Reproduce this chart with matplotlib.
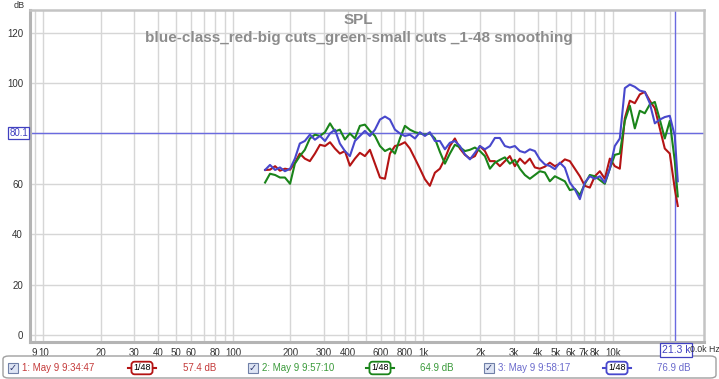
#!/usr/bin/env python3
"""
SPL measurement overlay, three sweeps with 1/48 octave smoothing
"""

import matplotlib.pyplot as plt
from matplotlib.patches import FancyBboxPatch, Rectangle

plt.rcParams['font.family'] = ['Liberation Sans', 'DejaVu Sans']

# Frequency points (Hz) and the three measured curves (dB)
freq = [147, 156, 166, 176, 187, 199, 211, 224, 238, 253, 269, 286, 304, 323,
        343, 364, 387, 411, 437, 464, 493, 524, 557, 592, 629, 668, 710, 754,
        801, 851, 905, 961, 1021, 1084, 1152, 1224, 1301, 1382, 1468, 1560,
        1658, 1762, 1872, 1988, 2113, 2245, 2385, 2533, 2692, 2860, 3038, 3228,
        3430, 3644, 3872, 4113, 4371, 4643, 4934, 5242, 5569, 5917, 6287, 6680,
        7097, 7540, 8011, 8511, 9043, 9608, 10205, 10845, 11525, 12246, 13010,
        13822, 14684, 15600, 16581, 17615, 18711, 19878, 21120, 21900]

red_db = [65.5, 65.6, 67, 65.2, 66, 65.6, 68.4, 72, 70, 69, 72, 75.5, 75, 76.5,
          74, 72, 73, 67.2, 70, 72.3, 71, 73.5, 68, 62.5, 62, 72, 75, 75.5,
          76.5, 74, 70, 66, 61.8, 59.2, 64.4, 66, 70, 75, 78, 74,
          71.5, 70, 71, 75, 73, 69, 69, 67, 69, 71, 67, 70,
          68, 70, 66.5, 66, 66.8, 68.4, 67, 68, 69.7, 69, 66, 63,
          59.2, 58.5, 63, 65, 62, 70, 67, 66, 86, 93, 92,
          95.5, 96.5, 93, 90, 82, 74, 72, 58, 51.2]

green_db = [60.5, 64, 63.5, 62.5, 62.5, 60, 68, 71, 73.5, 78, 79.5, 79, 80.5, 84,
            80.8, 81.5, 77.6, 80, 78, 83, 83.5, 81, 79, 75, 73, 74, 72, 78,
            83, 81.5, 80.5, 80, 79.5, 80, 78, 72.7, 68, 72, 75.5, 74.5,
            73, 73.5, 74.4, 73, 71, 66, 68.4, 69.5, 70.5, 68, 69.5, 66,
            63.5, 62, 63.5, 65, 64.5, 61, 63, 62, 61, 57.5, 58, 55.5,
            60, 63.5, 63, 61.5, 60, 66, 71.5, 72, 85, 91, 82,
            89, 88, 91.5, 92.5, 85.5, 78, 85, 69, 55]

blue_db = [65.5, 67.5, 65.5, 66.5, 65, 66, 70, 76, 77, 79.5, 77.5, 79, 77, 80,
           81.5, 76, 73, 71, 77, 79, 81, 79, 81.5, 85.5, 86.7, 85.5, 81.5, 80,
           79, 79.5, 78, 80.5, 79, 80.5, 77, 77, 73.7, 76.3, 77, 75,
           71.7, 69.7, 72.3, 75, 73.7, 75, 78.2, 78.2, 75, 74.4, 75, 73,
           72.4, 73.7, 73, 69.7, 67.7, 67.1, 65.8, 68.4, 66.4, 60.5, 57.8, 53.9,
           60.5, 63, 62, 63, 60.5, 66, 75, 78, 98, 99.4, 98.5,
           97, 96.5, 92, 84, 85.5, 86.5, 87, 79, 61]

# Legend panel contents
legend_names = ['1: May 9 9:34:47', '2: May 9 9:57:10', '3: May 9 9:58:17']
legend_levels = ['57.4 dB', '64.9 dB', '76.9 dB']
smoothing = '1/48'

# Axis ticks
x_grid = [9, 10, 20, 30, 40, 50, 60, 70, 80, 90,
          100, 200, 300, 400, 500, 600, 700, 800, 900,
          1000, 2000, 3000, 4000, 5000, 6000, 7000, 8000, 9000, 10000, 20000]
x_labels = {9: '9', 10: '10', 20: '20', 30: '30', 40: '40', 50: '50', 60: '60',
            80: '80', 100: '100', 200: '200', 300: '300', 400: '400', 600: '600',
            800: '800', 1000: '1k', 2000: '2k', 3000: '3k', 4000: '4k', 5000: '5k',
            6000: '6k', 7000: '7k', 8000: '8k', 10000: '10k'}
y_ticks = [0, 20, 40, 60, 80, 100, 120]
y_labels = ['0', '20', '40', '60', '', '100', '120']  # 80 sits under the cursor box

cursor_db = 80.1
cursor_hz = 21300

line_colors = ['#b41414', '#1a841a', '#4848cc']
text_colors = ['#c43a3a', '#3a9a3a', '#6a6acc']
cursor_color = '#6a6ae0'

W, H = 719, 379


def fx(px):
    return px / W


def fy(py):
    return 1 - py / H


fig = plt.figure(figsize=(W / 100, H / 100), dpi=100)
fig.patch.set_facecolor('white')

ax = fig.add_axes([fx(30), fy(342), fx(704) - fx(30), fy(10) - fy(342)])
ax.set_xscale('log')
ax.set_xlim(8.5, 30100)
ax.set_ylim(-2.8, 129)

ax.set_xticks(x_grid)
ax.set_xticklabels([x_labels.get(v, '') for v in x_grid])
ax.xaxis.set_minor_locator(plt.NullLocator())
ax.set_yticks(y_ticks)
ax.set_yticklabels(y_labels)
ax.tick_params(axis='both', length=0, labelsize=7, colors='#333333')
ax.tick_params(axis='x', pad=4)
ax.tick_params(axis='y', pad=5)
ax.grid(True, color='#d6d6d6', lw=1)
ax.set_axisbelow(True)

for side in ['left', 'bottom']:
    ax.spines[side].set_color('#b4b4b4')
    ax.spines[side].set_linewidth(2.2)
for side in ['top', 'right']:
    ax.spines[side].set_color('#c4c4c4')
    ax.spines[side].set_linewidth(1.8)

# Cursor lines
ax.axhline(cursor_db, color=cursor_color, lw=1)
ax.axvline(cursor_hz, color=cursor_color, lw=1)

# Curves
for db, c in zip([red_db, green_db, blue_db], line_colors):
    ax.plot(freq, db, color=c, lw=1.5, solid_joinstyle='round')

# Titles
fig.text(fx(358), fy(20), 'SPL', ha='center', va='center',
         fontsize=11, fontweight='bold', color='#8c8c8c')
fig.text(fx(359), fy(38), 'blue-class_red-big cuts_green-small cuts _1-48 smoothing',
         ha='center', va='center', fontsize=11, fontweight='bold', color='#8c8c8c')
fig.text(fx(14), fy(5), 'dB', ha='left', va='center', fontsize=6.5, color='#333333')

# Cursor readouts
fig.text(fx(18.5), fy(133), f'{cursor_db:.1f}', ha='center', va='center',
         fontsize=7, color='#4040c0',
         bbox=dict(boxstyle='square,pad=0.15', facecolor='white',
                   edgecolor='#4040c0', lw=0.9))
fig.text(fx(676), fy(350), '21.3 k', ha='center', va='center',
         fontsize=7.5, color='#4040c0',
         bbox=dict(boxstyle='square,pad=0.15', facecolor='white',
                   edgecolor='#4040c0', lw=0.9))
fig.text(fx(690), fy(350), '0.0k Hz', ha='left', va='center',
         fontsize=6.3, color='#333333')

# Legend panel
fig.patches.append(FancyBboxPatch((fx(3), fy(378)), fx(713), fy(356) - fy(378),
                                  boxstyle='round,pad=0,rounding_size=0.008',
                                  transform=fig.transFigure, facecolor='white',
                                  edgecolor='#a0a0a0', lw=1))

box_x = [8, 248, 484]
smooth_x = [142, 380, 617]
level_x = [183, 420, 657]
for i in range(3):
    bx = box_x[i]
    fig.patches.append(Rectangle((fx(bx), fy(373)), fx(10), fy(363) - fy(373),
                                 transform=fig.transFigure, facecolor='#dde4f4',
                                 edgecolor='#7080a8', lw=0.8))
    fig.text(fx(bx + 5), fy(368), '\u2713', ha='center', va='center',
             fontsize=7, color='#303a70', family=['DejaVu Sans'])
    fig.text(fx(bx + 14), fy(368), legend_names[i], ha='left', va='center',
             fontsize=7, color=text_colors[i])
    sx = smooth_x[i]
    fig.lines.append(plt.Line2D([fx(sx - 14), fx(sx + 14)], [fy(368), fy(368)],
                                transform=fig.transFigure,
                                color=line_colors[i], lw=1.5))
    fig.text(fx(sx), fy(368), smoothing, ha='center', va='center',
             fontsize=6.5, color='black',
             bbox=dict(boxstyle='round,pad=0.2,rounding_size=0.35',
                       facecolor='white', edgecolor=line_colors[i], lw=1.3))
    fig.text(fx(level_x[i]), fy(368), legend_levels[i], ha='left', va='center',
             fontsize=7, color=text_colors[i])

plt.savefig('out.png', dpi=100, facecolor='white')
